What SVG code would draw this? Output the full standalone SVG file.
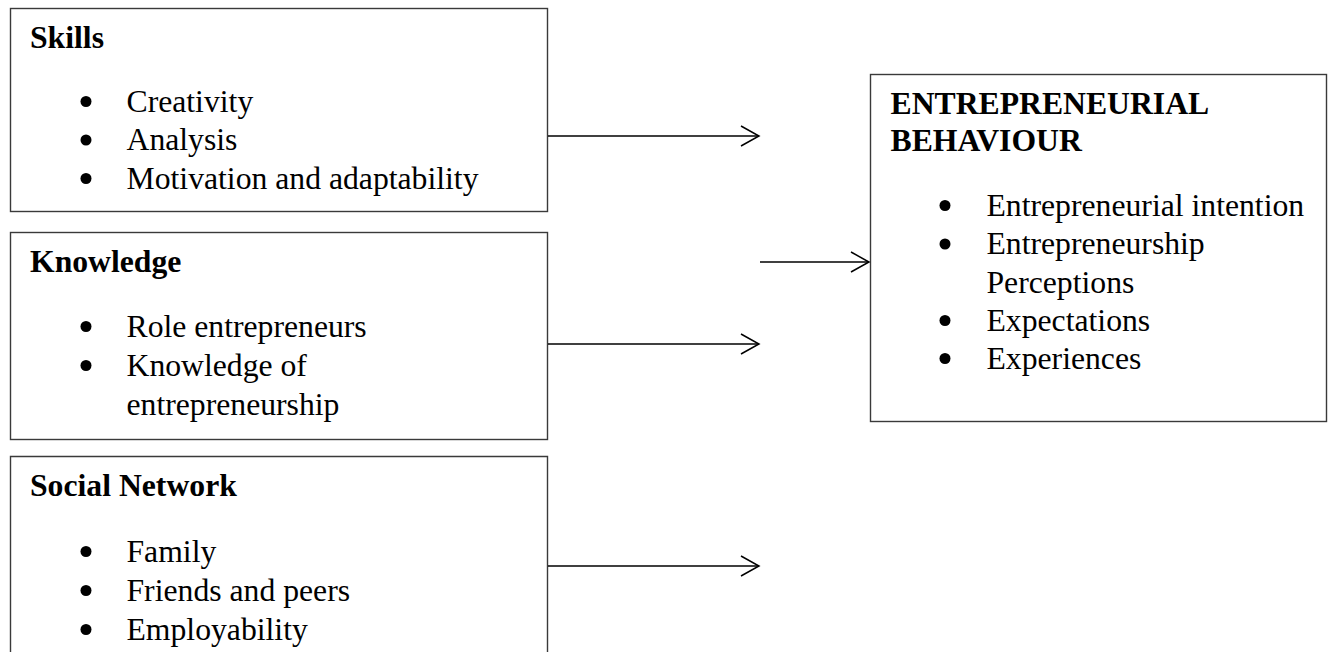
<svg xmlns="http://www.w3.org/2000/svg" width="1330" height="652" viewBox="0 0 1330 652">
<defs>
<style>
.box{fill:#fff;stroke:#3a3a3a;stroke-width:1.4}
.t{font-family:"Liberation Serif","Times New Roman",serif;font-size:31.7px;fill:#000}
.b{font-weight:bold}
.conn{stroke:#000;stroke-width:1.5;fill:none}
.dot{fill:#000}
</style>
<marker id="arr" markerUnits="userSpaceOnUse" markerWidth="22" markerHeight="24" refX="19" refY="11" orient="auto">
<path d="M1,1 L19,11 L1,21" fill="none" stroke="#000" stroke-width="1.5"/>
</marker>
</defs>
<rect width="1330" height="652" fill="#fff"/>
<g id="skills">
<rect class="box" x="10.5" y="8.5" width="537" height="203"/>
<text class="t b" x="30" y="48">Skills</text>
<circle class="dot" cx="86" cy="101.5" r="5.5"/>
<text class="t" x="126.5" y="111.5">Creativity</text>
<circle class="dot" cx="86" cy="140" r="5.5"/>
<text class="t" x="126.5" y="150">Analysis</text>
<circle class="dot" cx="86" cy="178.5" r="5.5"/>
<text class="t" x="126.5" y="188.5">Motivation and adaptability</text>
</g>
<g id="knowledge">
<rect class="box" x="10.5" y="232.5" width="537" height="207"/>
<text class="t b" x="30" y="272">Knowledge</text>
<circle class="dot" cx="86" cy="326.5" r="5.5"/>
<text class="t" x="126.5" y="336.5">Role entrepreneurs</text>
<circle class="dot" cx="86" cy="365.5" r="5.5"/>
<text class="t" x="126.5" y="375.5">Knowledge of</text>
<text class="t" x="126.5" y="414.5">entrepreneurship</text>
</g>
<g id="social-network">
<path class="box" d="M10.5,660 L10.5,456.5 L547.5,456.5 L547.5,660"/>
<text class="t b" x="30" y="496">Social Network</text>
<circle class="dot" cx="86" cy="551.5" r="5.5"/>
<text class="t" x="126.5" y="561.5">Family</text>
<circle class="dot" cx="86" cy="590.5" r="5.5"/>
<text class="t" x="126.5" y="600.5">Friends and peers</text>
<circle class="dot" cx="86" cy="629.5" r="5.5"/>
<text class="t" x="126.5" y="639.5">Employability</text>
</g>
<g id="entrepreneurial-behaviour">
<rect class="box" x="870.5" y="74.5" width="456" height="347"/>
<text class="t b" x="890.5" y="113.5">ENTREPRENEURIAL</text>
<text class="t b" x="890.5" y="150.5">BEHAVIOUR</text>
<circle class="dot" cx="945" cy="205.5" r="5.5"/>
<text class="t" x="986.5" y="215.5">Entrepreneurial intention</text>
<circle class="dot" cx="945" cy="244" r="5.5"/>
<text class="t" x="986.5" y="254">Entrepreneurship</text>
<text class="t" x="986.5" y="292.5">Perceptions</text>
<circle class="dot" cx="945" cy="320.5" r="5.5"/>
<text class="t" x="986.5" y="330.5">Expectations</text>
<circle class="dot" cx="945" cy="358.5" r="5.5"/>
<text class="t" x="986.5" y="368.5">Experiences</text>
</g>
<g id="connectors">
<line class="conn" x1="548" y1="136" x2="759" y2="136" marker-end="url(#arr)"/>
<line class="conn" x1="548" y1="344" x2="759" y2="344" marker-end="url(#arr)"/>
<line class="conn" x1="548" y1="566" x2="759" y2="566" marker-end="url(#arr)"/>
<line class="conn" x1="760" y1="262" x2="869" y2="262" marker-end="url(#arr)"/>
</g>
</svg>
